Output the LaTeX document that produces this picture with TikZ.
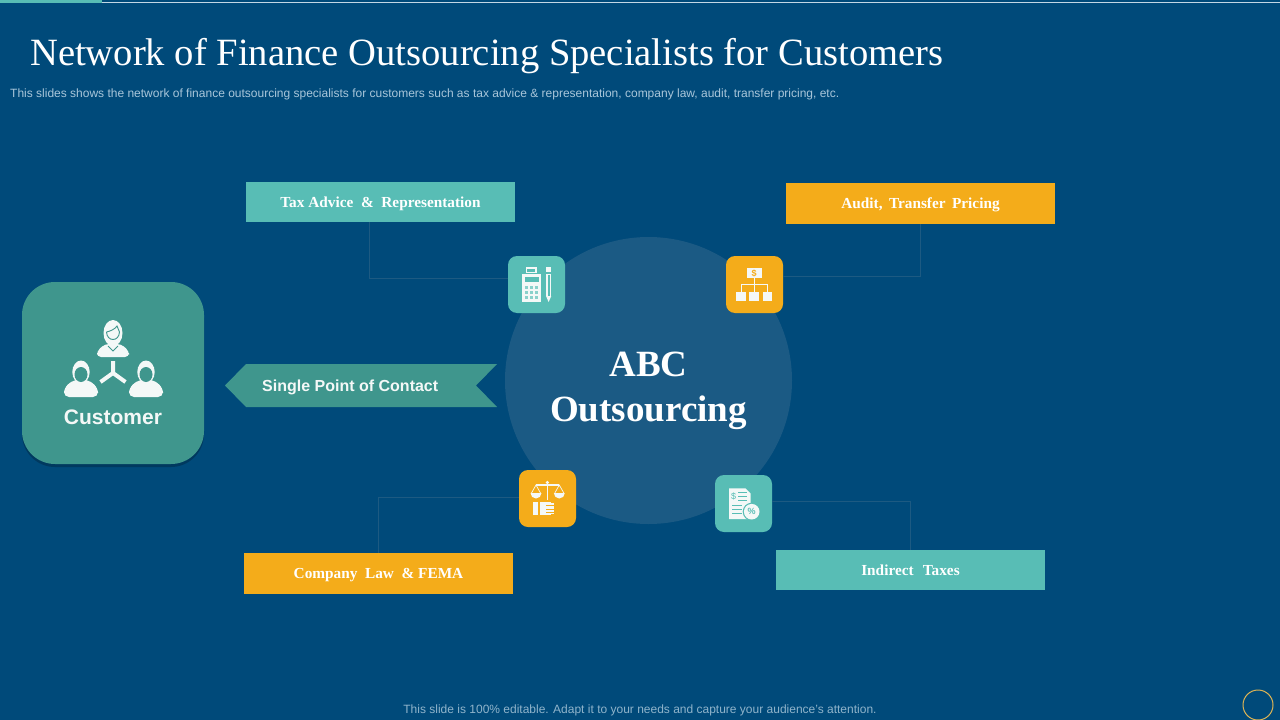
\documentclass[tikz,border=0pt]{standalone}
\usepackage{fontspec}
\setmainfont{Liberation Serif}
\setsansfont{Liberation Sans}
\usetikzlibrary{shadows,positioning}
\definecolor{slidebg}{HTML}{004A7A}
\definecolor{discfill}{HTML}{1B5A84}
\definecolor{tealdark}{HTML}{3F968D}
\definecolor{teallight}{HTML}{58BDB5}
\definecolor{amber}{HTML}{F4AC1A}
\definecolor{linkblue}{HTML}{1D5A82}
\definecolor{paletext}{HTML}{A9C6DA}
\definecolor{iconwhite}{HTML}{F4F8F7}
\tikzset{
	labelbox/.style={minimum width=269pt,minimum height=#1,inner sep=0pt,text height=11.5pt,text depth=1.5pt,text=white,font=\rmfamily\bfseries\fontsize{15.3}{18}\selectfont},
	iconbox/.style={minimum width=57pt,minimum height=57pt,inner sep=0pt,rounded corners=9pt},
	link/.style={linkblue,line width=.8pt},
	smalltext/.style={paletext,inner sep=0pt,font=\sffamily\fontsize{12}{14}\selectfont}
}
\newcommand{\manhead}[2]{% centre x, bottom y
	\fill[iconwhite,rounded corners=5pt] (#1-17,#2) -- (#1-17,#2-9) -- (#1-8,#2-17) -- (#1+8,#2-17) -- (#1+17,#2-9) -- (#1+17,#2) -- cycle;
	\fill[iconwhite] (#1,#2-25) ellipse (8.7pt and 11.5pt);
	\fill[tealdark] (#1,#2-22.5) ellipse (6.5pt and 7.5pt);
}
\begin{document}
\begin{tikzpicture}[x=1pt,y=-1pt]
	\useasboundingbox (0,0) rectangle (1280,720);
	\fill[slidebg] (0,0) rectangle (1280,720);

	% top rule
	\fill[teallight] (0,0) rectangle (102,3);
	\fill[paletext!70!white] (102,1.5) rectangle (1280,2.6);

	% heading
	\node[anchor=west,inner sep=0pt,text=white,font=\rmfamily\fontsize{38.6}{40}\selectfont] (heading) at (30,56)
		{Network of Finance Outsourcing Specialists for Customers};
	\node[anchor=west,smalltext] (subheading) at (10,94)
		{This slides shows the network of finance outsourcing specialists for customers such as tax advice \& representation, company law, audit, transfer pricing, etc.};

	% centre
	\node[circle,fill=discfill,minimum size=287pt,inner sep=0pt] (abc) at (648.5,380.5) {};
	\node[align=center,inner sep=0pt,text=white,font=\rmfamily\bfseries\fontsize{37}{45}\selectfont] (abclabel) at (648.5,391) {ABC\\Outsourcing};

	% boxes
	\node[labelbox=40pt,fill=teallight]  (tax)      at (380.5,202)   {Tax Advice\ \ \&\ \ Representation};
	\node[labelbox=41pt,fill=amber]      (audit)    at (920.5,203.5) {Audit,\hspace{.42em}Transfer\hspace{.42em}Pricing};
	\node[labelbox=41pt,fill=amber]      (company)  at (378.5,573.5) {Company\ \ Law\ \ \& FEMA};
	\node[labelbox=40pt,fill=teallight]  (indirect) at (910.5,570)   {Indirect\hspace{.6em}Taxes};

	% icon tiles
	\node[iconbox,fill=teallight] (calc)   at (536.5,284.5) {};
	\node[iconbox,fill=amber]     (org)    at (754.5,284.5) {};
	\node[iconbox,fill=amber]     (scales) at (547.5,498.5) {};
	\node[iconbox,fill=teallight] (doc)    at (743.5,503.5) {};

	% links
	\draw[link] ([xshift=-11.5pt]tax.south) |- ([yshift=6.5pt]calc.west);
	\draw[link] (audit.south) |- ([yshift=8.5pt]org.east);
	\draw[link] (company.north) |- ([yshift=1.5pt]scales.west);
	\draw[link] (indirect.north) |- ([yshift=2.5pt]doc.east);

	% customer tile
	\node[minimum size=182pt,inner sep=0pt,rounded corners=33pt,fill=tealdark,drop shadow={fill=black,opacity=.22,shadow xshift=0pt,shadow yshift=-3pt}] (customer) at (113,373) {};
	\manhead{81}{397}
	\manhead{146}{397}
	\fill[iconwhite,rounded corners=4pt] (97,357) -- (97,351) -- (105,344) -- (121,344) -- (129,351) -- (129,357) -- cycle;
	\fill[iconwhite] (113,333) ellipse (9.5pt and 13pt);
	\draw[tealdark,line width=.9pt] (106.5,332) .. controls (107,342) and (119,342) .. (119.5,332) -- (117,326) .. controls (115,329) and (111,331) .. (106.5,332);
	\draw[tealdark,line width=.9pt] (108,346) -- (113,351) -- (118,346);
	\draw[iconwhite,line width=4pt] (113,361) -- (113,373) -- (100.5,382);
	\draw[iconwhite,line width=4pt] (113,373) -- (125.5,382);
	\node[inner sep=0pt,text=iconwhite,font=\sffamily\bfseries\fontsize{21}{24}\selectfont] (customerlabel) at (113,417) {Customer};

	% ribbon
	\fill[tealdark] (225,385.5) -- (246,364) -- (497,364) -- (476,385.5) -- (497,407) -- (246,407) -- cycle;
	\node[anchor=west,inner sep=0pt,text=iconwhite,font=\sffamily\bfseries\fontsize{16}{19}\selectfont] (contact) at (262,387) {Single Point of Contact};

	% calculator and pencil
	\fill[iconwhite] (525.7,267) rectangle (536.7,273);
	\fill[teallight] (527,268.5) rectangle (535.4,271.5);
	\fill[iconwhite] (522.3,274) rectangle (540.7,302);
	\fill[teallight] (524.6,276.5) rectangle (538.6,282);
	\foreach \col in {0,1,2}
		\foreach \row in {0,1,2}
			\fill[teallight!70!white] (525.2+\col*4.7,286+\row*5) rectangle +(3,3);
	\fill[iconwhite] (546,267) rectangle (551.3,272);
	\fill[iconwhite] (546,273.5) rectangle (551.3,275);
	\fill[iconwhite] (546.4,275) rectangle (547.7,296);
	\fill[iconwhite] (549.6,275) rectangle (550.9,296);
	\fill[iconwhite] (546,296) -- (551.3,296) -- (548.6,302) -- cycle;

	% money tree
	\fill[iconwhite] (746.7,268) rectangle (761.7,278);
	\node[inner sep=0pt,text=amber,font=\sffamily\bfseries\fontsize{9}{9}\selectfont] (dollar) at (754.2,273) {\$};
	\draw[iconwhite,line width=1pt] (754.2,278) -- (754.2,292) (741,292) -- (741,284.3) -- (767.5,284.3) -- (767.5,292);
	\foreach \boxx in {736,749.3,762.7}
		\fill[iconwhite] (\boxx,292) rectangle +(9.5,9);

	% scales and hand
	\draw[iconwhite,line width=1.4pt] (547.3,482) -- (547.3,500) (536,485) -- (559.3,485);
	\fill[iconwhite] (547.3,482.5) circle (1.8pt);
	\draw[iconwhite,line width=.7pt] (531.5,493) -- (536,485) -- (540.5,493) (554.8,493) -- (559.3,485) -- (563.8,493);
	\fill[iconwhite] (530.5,493) arc[start angle=180,end angle=360,radius=5.5pt] -- cycle;
	\fill[iconwhite] (553.8,493) arc[start angle=180,end angle=360,radius=5.5pt] -- cycle;
	\fill[iconwhite] (533.3,502) rectangle (538,515);
	\fill[iconwhite] (540,502) rectangle (551,515);
	\fill[iconwhite] (551,503) rectangle (554,514);
	\foreach \liney in {505.5,509,512.5}
		\draw[amber,line width=.8pt] (546,\liney) -- (554.5,\liney);

	% tax sheet
	\fill[iconwhite] (729,488.3) -- (745.5,488.3) -- (750.7,493.5) -- (750.7,519) -- (729,519) -- cycle;
	\node[inner sep=0pt,text=teallight,font=\sffamily\fontsize{9}{9}\selectfont] (sheetdollar) at (733.5,496) {\$};
	\foreach \liney in {492,496,500}
		\draw[teallight,line width=.7pt] (738,\liney) -- (747,\liney);
	\foreach \liney in {505,509,513}
		\draw[teallight,line width=.7pt] (732,\liney) -- (742,\liney);
	\fill[teallight] (751.7,511.7) circle (9pt);
	\fill[iconwhite] (751.7,511.7) circle (7.8pt);
	\node[inner sep=0pt,text=teallight,font=\sffamily\bfseries\fontsize{9}{9}\selectfont] (sheetpercent) at (751.7,511.7) {\%};

	% footer
	\node[smalltext,text=paletext!85!slidebg] (footer) at (640,710) {This slide is 100\% editable. Adapt it to your needs and capture your audience's attention.};
	\node[circle,draw=amber!70!paletext,line width=1pt,minimum size=30pt,inner sep=0pt] (pagering) at (1258,705) {};
\end{tikzpicture}
\end{document}
